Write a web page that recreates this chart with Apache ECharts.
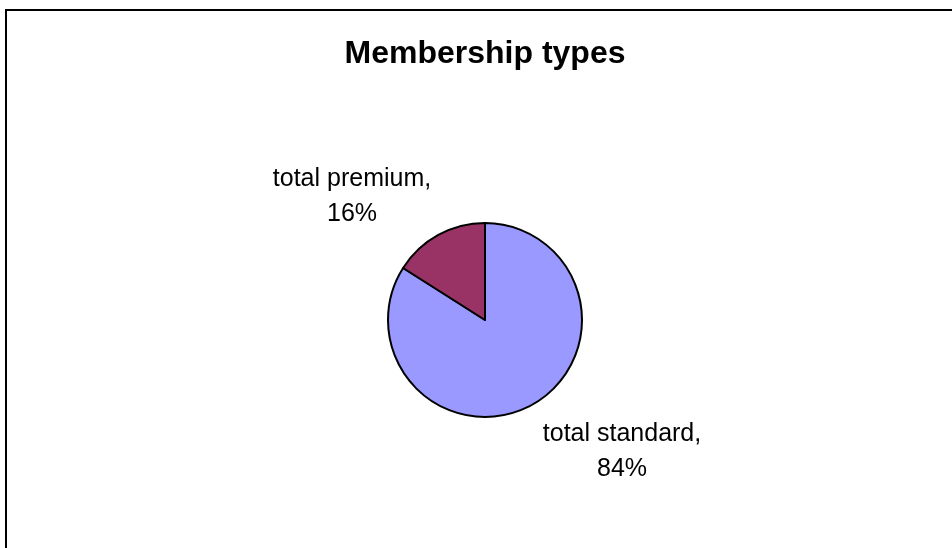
<!DOCTYPE html>
<html>
<head>
<meta charset="utf-8">
<script src="https://cdn.jsdelivr.net/npm/echarts@6/dist/echarts.min.js"></script>
<style>
  html, body { margin: 0; padding: 0; background: #fff; }
  #chart { width: 952px; height: 548px; }
</style>
</head>
<body>
<div id="chart"></div>
<script>
// Membership split
const titleText = 'Membership types';
const categories = ['total standard', 'total premium'];
const values = [84, 16];
const sliceColors = ['#9999FF', '#993366'];

const FONT = "'Liberation Sans', Arial, sans-serif";

// Label anchor points (label block centres) per slice
const labelAnchors = [
  { x: 622, y: 452 },
  { x: 352, y: 197 }
];

const chart = echarts.init(document.getElementById('chart'), null, { renderer: 'canvas' });

chart.setOption({
  backgroundColor: '#ffffff',
  animation: false,
  graphic: [
    {
      type: 'rect',
      shape: { x: 6, y: 10, width: 1000, height: 1000 },
      style: { fill: 'none', stroke: '#000', lineWidth: 2 },
      silent: true
    },
    {
      type: 'text',
      x: 485,
      y: 54,
      style: {
        text: titleText,
        fill: '#000',
        font: 'bold 32px ' + FONT,
        textAlign: 'center',
        textVerticalAlign: 'middle'
      },
      silent: true
    }
  ],
  series: [
    {
      type: 'pie',
      center: [485, 320],
      radius: 97,
      startAngle: 90,
      clockwise: true,
      avoidLabelOverlap: false,
      data: categories.map((name, i) => ({
        name: name,
        value: values[i],
        itemStyle: { color: sliceColors[i] }
      })),
      itemStyle: { borderColor: '#000', borderWidth: 2 },
      emphasis: { disabled: true },
      label: {
        show: true,
        position: 'outside',
        formatter: p => p.name + ',\n' + Math.round(p.percent) + '%',
        color: '#000',
        fontFamily: FONT,
        fontSize: 25,
        lineHeight: 35,
        align: 'center'
      },
      labelLine: { show: false },
      labelLayout: params => ({
        x: labelAnchors[params.dataIndex].x,
        y: labelAnchors[params.dataIndex].y,
        align: 'center',
        verticalAlign: 'middle'
      })
    }
  ]
});
</script>
</body>
</html>
